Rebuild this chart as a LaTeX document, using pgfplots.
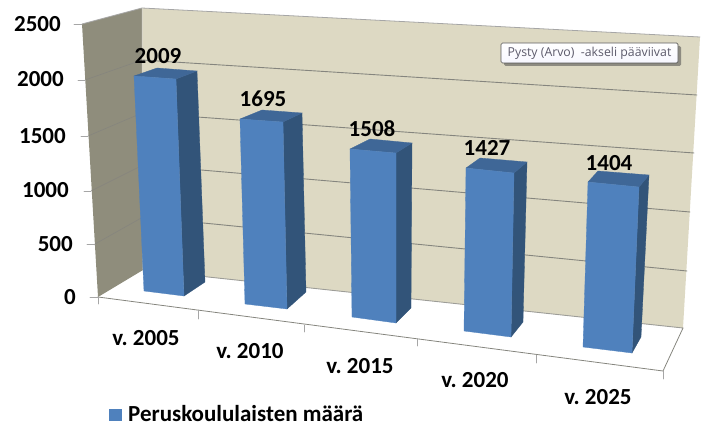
\documentclass[border=0pt]{standalone}
\usepackage{fontspec}
\setmainfont{Carlito}
\newfontfamily\notefont{Open Sans}
\usepackage{pgfplots}
\pgfplotsset{compat=1.18}
\usetikzlibrary{shadows}

\definecolor{barfront}{HTML}{4F81BD}
\definecolor{barside}{HTML}{325479}
\definecolor{bartop}{HTML}{3F6797}
\definecolor{backwall}{HTML}{DDD9C3}
\definecolor{sidewall}{HTML}{8F8D7C}
\definecolor{gridc}{HTML}{85857E}
\definecolor{edgec}{HTML}{A6A6A6}
\definecolor{notetext}{HTML}{5C5A6B}

\newcommand{\lab}{\fontsize{23bp}{25bp}\selectfont\bfseries\frenchspacing}

\begin{document}
\begin{tikzpicture}
\begin{axis}[
    scale only axis,
    width=704bp, height=425bp,
    xmin=0, xmax=704, ymin=0, ymax=425,
    y dir=reverse,
    axis lines=none,
    clip=false,
    /tikz/line cap=round,
    front/.style={fill=barfront, draw=barfront, line width=0.3pt},
    side/.style={fill=barside, draw=barside, line width=0.3pt},
    top/.style={fill=bartop, draw=bartop, line width=0.3pt},
]
% corners, keep the page size
\addplot[draw=none, forget plot] coordinates {(0,0) (704,425)};

% walls
\addplot[fill=sidewall, draw=none] coordinates {(82,24) (142,8) (143,270) (98,297)} -- cycle;
\addplot[fill=backwall, draw=none] coordinates {(142,8) (700,37) (683,328) (143,270)} -- cycle;

% gridlines, back wall
\addplot[gridc, line width=0.9pt] coordinates {(142,60) (697,95)};
\addplot[gridc, line width=0.9pt] coordinates {(142,113) (694,153)};
\addplot[gridc, line width=0.9pt] coordinates {(143,165) (690,212)};
\addplot[gridc, line width=0.9pt] coordinates {(143,217) (687,271)};
\addplot[gridc!80, line width=0.9pt] coordinates {(143,270) (683,328)};
% gridlines, left wall
\addplot[gray!60!sidewall, line width=0.6pt] coordinates {(85,80) (142,60)};
\addplot[gray!60!sidewall, line width=0.6pt] coordinates {(88,136) (142,113)};
\addplot[gray!60!sidewall, line width=0.6pt] coordinates {(91,191) (143,165)};
\addplot[gray!60!sidewall, line width=0.6pt] coordinates {(95,244) (143,217)};

% outer edges
\addplot[edgec, line width=0.8pt] coordinates {(82,24) (142,8) (700,37)};
\addplot[gridc, line width=0.8pt] coordinates {(98,297) (663,371) (683,328)};
\addplot[edgec!50, line width=0.5pt] coordinates {(142,8) (143,270)};
% ticks
\addplot[edgec, line width=0.7pt] coordinates {(74,24) (82,24)};
\addplot[edgec, line width=0.7pt] coordinates {(78,80) (85,80)};
\addplot[edgec, line width=0.7pt] coordinates {(81,136) (88,136)};
\addplot[edgec, line width=0.7pt] coordinates {(84,191) (91,191)};
\addplot[edgec, line width=0.7pt] coordinates {(87,244) (95,244)};
\addplot[edgec, line width=0.7pt] coordinates {(90,297) (98,297)};
\addplot[edgec, line width=0.7pt] coordinates {(98,297) (98,304)};
\addplot[edgec, line width=0.7pt] coordinates {(198,310) (198,319)};
\addplot[edgec, line width=0.7pt] coordinates {(304,325) (304,332)};
\addplot[edgec, line width=0.7pt] coordinates {(417,339) (417,346)};
\addplot[edgec, line width=0.7pt] coordinates {(536,355) (536,363)};
\addplot[edgec, line width=0.7pt] coordinates {(663,371) (663,379)};

% v. 2005, 2009
\addplot[side] coordinates {(176,79) (197,71) (205,282) (184,296)} -- cycle;
\addplot[top] coordinates {(134,76) (157,68) (197,71) (176,79)} -- cycle;
\addplot[front] coordinates {(134,76) (176,79) (184,296) (144,291)} -- cycle;
% v. 2010, 1695
\addplot[side] coordinates {(283,122) (302,113) (306,292) (287,309)} -- cycle;
\addplot[top] coordinates {(240,119) (262,110) (302,113) (283,122)} -- cycle;
\addplot[front] coordinates {(240,119) (283,122) (287,309) (245,304)} -- cycle;
% v. 2015, 1508
\addplot[side] coordinates {(396,153) (412,143) (411,308) (396,323)} -- cycle;
\addplot[top] coordinates {(350,149) (370,139) (412,143) (396,153)} -- cycle;
\addplot[front] coordinates {(350,149) (396,153) (396,323) (352,317)} -- cycle;
% v. 2020, 1427
\addplot[side] coordinates {(514,173) (527,162) (523,322) (511,337)} -- cycle;
\addplot[top] coordinates {(466,168) (480,158) (527,162) (514,173)} -- cycle;
\addplot[front] coordinates {(466,168) (514,173) (511,337) (464,331)} -- cycle;
% v. 2025, 1404
\addplot[side] coordinates {(639,187) (649,175) (641,337) (632,353)} -- cycle;
\addplot[top] coordinates {(588,182) (598,171) (649,175) (639,187)} -- cycle;
\addplot[front] coordinates {(588,182) (639,187) (632,353) (583,347)} -- cycle;

% legend key
\addplot[fill=barfront, draw=none] coordinates {(109,409) (122,409) (122,421) (109,421)} -- cycle;
\node[anchor=west, inner sep=0pt, font=\lab] at (axis cs:128,414) {Peruskoululaisten määrä};

% value labels
\node[font=\lab, inner sep=0pt] at (axis cs:158,56) {2009};
\node[font=\lab, inner sep=0pt] at (axis cs:263,99) {1695};
\node[font=\lab, inner sep=0pt] at (axis cs:372,129) {1508};
\node[font=\lab, inner sep=0pt] at (axis cs:487,148) {1427};
\node[font=\lab, inner sep=0pt] at (axis cs:609,163) {1404};

% y labels
\node[font=\lab, inner sep=0pt, anchor=east] at (axis cs:61,24) {2500};
\node[font=\lab, inner sep=0pt, anchor=east] at (axis cs:64,79) {2000};
\node[font=\lab, inner sep=0pt, anchor=east] at (axis cs:66,136) {1500};
\node[font=\lab, inner sep=0pt, anchor=east] at (axis cs:69,190) {1000};
\node[font=\lab, inner sep=0pt, anchor=east] at (axis cs:73,244) {500};
\node[font=\lab, inner sep=0pt, anchor=east] at (axis cs:76,297) {0};

% category labels
\node[font=\lab, inner sep=0pt] at (axis cs:146,338) {v. 2005};
\node[font=\lab, inner sep=0pt] at (axis cs:250,351) {v. 2010};
\node[font=\lab, inner sep=0pt] at (axis cs:360,366) {v. 2015};
\node[font=\lab, inner sep=0pt] at (axis cs:475,380) {v. 2020};
\node[font=\lab, inner sep=0pt] at (axis cs:598,397) {v. 2025};

% tooltip
\node[draw=gray!70!black, rounded corners=1.5pt, line width=0.7pt,
      top color=white, bottom color=black!6!blue!3!white,
      drop shadow={shadow xshift=3bp, shadow yshift=-3bp, fill=black!70, opacity=.55},
      minimum width=177bp, minimum height=20bp, inner sep=0pt,
      text=notetext,
      font=\notefont\fontsize{12.3bp}{14bp}\selectfont]
      at (axis cs:589.5,53) {Pysty (Arvo)\ \ -akseli pääviivat};
\end{axis}
\end{tikzpicture}
\end{document}
